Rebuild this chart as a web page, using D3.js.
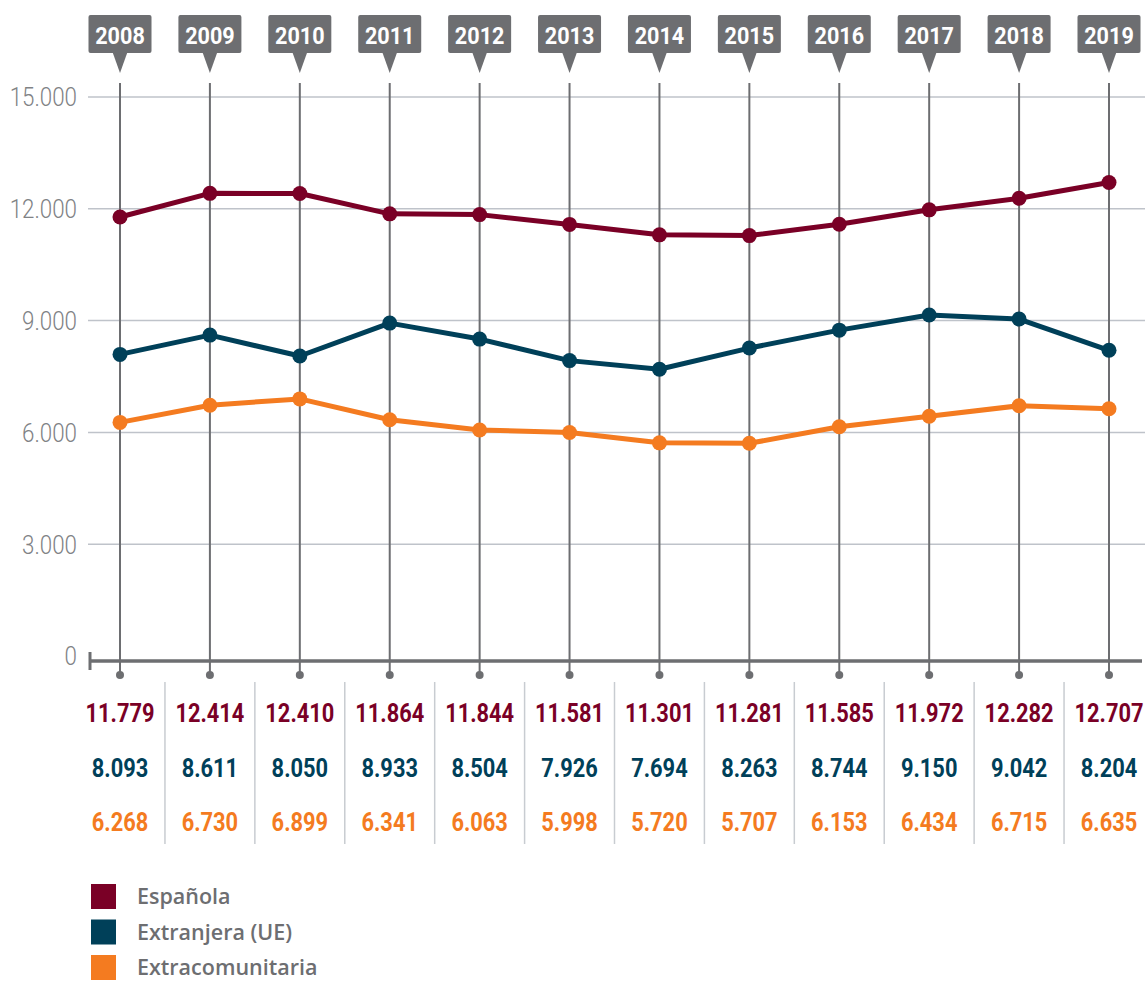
<!DOCTYPE html>
<html><head><meta charset="utf-8">
<script src="https://cdn.jsdelivr.net/npm/d3@7"></script>
<style>body{margin:0;background:#fff}svg{display:block}</style>
</head><body>
<svg id="c" width="1148" height="982"></svg>
<script>
const years = ["2008","2009","2010","2011","2012","2013","2014","2015","2016","2017","2018","2019"];
const espanola = [11779,12414,12410,11864,11844,11581,11301,11281,11585,11972,12282,12707];
const extranjeraUE = [8093,8611,8050,8933,8504,7926,7694,8263,8744,9150,9042,8204];
const extracomunitaria = [6268,6730,6899,6341,6063,5998,5720,5707,6153,6434,6715,6635];
const seriesNames = ["Española","Extranjera (UE)","Extracomunitaria"];
const seriesColors = ["#7a0026","#004059","#f47b20"];
const yTicks = [0,3000,6000,9000,12000,15000];

const series = [espanola, extranjeraUE, extracomunitaria];
const svg = d3.select("#c");
const font = "Roboto, 'DejaVu Sans', sans-serif";
const grey = "#6d6e71";

const x = d3.scalePoint().domain(years).range([120,1109]);
const y = d3.scaleLinear().domain([0,15000]).range([656,97]);
const fmt = v => d3.format(",")(v).replace(/,/g,".");

// gridlines
svg.append("g").selectAll("line").data(yTicks.filter(d=>d>0)).join("line")
  .attr("x1",88).attr("x2",1145).attr("y1",d=>y(d)).attr("y2",d=>y(d))
  .attr("stroke","#bfc3ca").attr("stroke-width",1.5);

// y labels
svg.append("g").selectAll("text").data(yTicks).join("text")
  .attr("transform",d=>`translate(77,${y(d)}) scale(0.86,1)`).attr("dy","0.36em")
  .attr("text-anchor","end").attr("font-family",font).attr("font-weight",300).attr("font-size",26)
  .attr("fill","#808285").text(d=>fmt(d));

// vertical year lines
const vg = svg.append("g");
vg.selectAll("line").data(years).join("line")
  .attr("x1",d=>x(d)).attr("x2",d=>x(d)).attr("y1",83).attr("y2",675)
  .attr("stroke",grey).attr("stroke-width",2);
vg.selectAll("circle").data(years).join("circle")
  .attr("cx",d=>x(d)).attr("cy",675).attr("r",4).attr("fill",grey);

// x axis line
svg.append("line").attr("x1",89).attr("x2",1142).attr("y1",661).attr("y2",661)
  .attr("stroke",grey).attr("stroke-width",3.5);
svg.append("line").attr("x1",90).attr("x2",90).attr("y1",652).attr("y2",670)
  .attr("stroke",grey).attr("stroke-width",3);

// year label boxes
const yb = svg.append("g").selectAll("g").data(years).join("g")
  .attr("transform",d=>`translate(${x(d)},0)`);
yb.append("rect").attr("x",-31.5).attr("y",15).attr("width",63).attr("height",38)
  .attr("rx",2).attr("fill",grey);
yb.append("path").attr("d","M-7.5,52 L7.5,52 L0,73 Z").attr("fill",grey);
yb.append("text").attr("transform","translate(0,35) scale(0.9,1)").attr("dy","0.36em").attr("text-anchor","middle")
  .attr("font-family",font).attr("font-weight","bold").attr("font-size",24)
  .attr("fill","#fff").text(d=>d);

// lines & dots
series.forEach((s,i)=>{
  const line = d3.line().x((d,j)=>x(years[j])).y(d=>y(d));
  svg.append("path").datum(s).attr("d",line).attr("fill","none")
    .attr("stroke",seriesColors[i]).attr("stroke-width",5).attr("stroke-linejoin","round");
  svg.append("g").selectAll("circle").data(s).join("circle")
    .attr("cx",(d,j)=>x(years[j])).attr("cy",d=>y(d)).attr("r",7.5)
    .attr("fill",seriesColors[i]);
});

// table separators
const step = x.step();
svg.append("g").selectAll("line").data(years.slice(1)).join("line")
  .attr("x1",d=>x(d)-step/2).attr("x2",d=>x(d)-step/2).attr("y1",682).attr("y2",844)
  .attr("stroke","#c8ccd1").attr("stroke-width",1.5);

// table values
const rowY = [713,768,822];
series.forEach((s,i)=>{
  svg.append("g").selectAll("text").data(s).join("text")
    .attr("transform",(d,j)=>`translate(${x(years[j])},${rowY[i]}) scale(0.84,1)`).attr("dy","0.36em")
    .attr("text-anchor","middle").attr("font-family",font).attr("font-weight","bold")
    .attr("font-size",26).attr("fill",seriesColors[i]).text(d=>fmt(d));
});

// legend
const lg = svg.append("g").selectAll("g").data(seriesNames).join("g")
  .attr("transform",(d,i)=>`translate(91,${884+i*35.5})`);
lg.append("rect").attr("width",25).attr("height",25).attr("fill",(d,i)=>seriesColors[i]);
lg.append("text").attr("x",46).attr("y",12.5).attr("dy","0.36em")
  .attr("font-family","'Open Sans',sans-serif").attr("font-weight",600)
  .attr("font-size",21.5).attr("fill",grey).text(d=>d);
</script>
</body></html>
